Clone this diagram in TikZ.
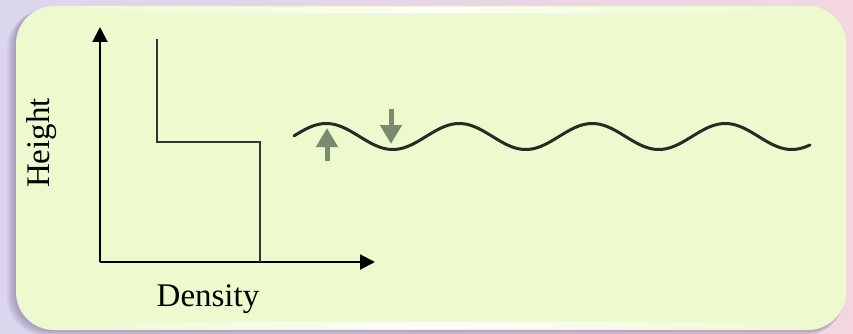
\documentclass[tikz,border=0pt]{standalone}
\usepackage{fontspec}
\setmainfont{Liberation Serif}
\usetikzlibrary{arrows.meta,fadings}
\definecolor{bgleft}{RGB}{219,213,238}
\definecolor{bgright}{RGB}{243,214,226}
\definecolor{boxgreen}{RGB}{236,250,206}
\definecolor{arrowgreen}{RGB}{126,138,112}
\definecolor{wavecol}{RGB}{40,42,36}
\definecolor{shadowcol}{RGB}{110,90,140}
\tikzfading[name=hfade, left color=transparent!100, right color=transparent!100, middle color=transparent!0]
\tikzset{
  axis/.style={line width=2pt, black, -{Triangle[width=15pt,length=15pt]}},
  stepline/.style={line width=1.5pt, black!80},
  wave/.style={line width=3pt, wavecol, line cap=round},
  grayarrow/.style={line width=5pt, arrowgreen, -{Triangle[width=21pt,length=19pt]}},
  lbl/.style={font=\fontsize{33}{36}\selectfont, inner sep=0pt}
}
\begin{document}
\begin{tikzpicture}[x=1pt,y=-1pt]
\useasboundingbox (0,0) rectangle (853,334);
\shade[left color=bgleft, right color=bgright] (0,0) rectangle (853,334);
% shadow
\foreach \i in {1,...,9}{
  \fill[shadowcol, opacity=0.06, rounded corners=38pt] (16-\i,6+0.5*\i) rectangle (846-0.3*\i,330+0.6*\i);
}
% box
\fill[boxgreen, rounded corners=38pt] (16,6) rectangle (846,330);
\fill[white, path fading=hfade, opacity=0.9] (50,7) rectangle (820,13);
\fill[white, path fading=hfade, opacity=0.9] (50,322) rectangle (830,329);
% axes
\coordinate (O) at (100,262);
\coordinate (ytop) at (100,27);
\coordinate (xend) at (375,262);
\draw[axis] (O) -- (ytop);
\draw[axis] (O) -- (xend);
% step profile
\coordinate (s1) at (157,39);
\coordinate (s2) at (260,142);
\coordinate (s3) at (260,262);
\draw[stepline] (s1) |- (s2) -- (s3);
% labels
\node[lbl, rotate=90] (hlabel) at (42,143) {Height};
\node[lbl] (dlabel) at (208,299) {Density};
% wave
\draw[wave, domain=294:810, samples=240, smooth] plot (\x, {136.5 - 13*sin((\x-293)/133*360)});
% gray arrows
\coordinate (ua0) at (327,161);
\coordinate (ua1) at (327,128);
\coordinate (da0) at (391,109);
\coordinate (da1) at (391,144);
\draw[grayarrow] (ua0) -- (ua1);
\draw[grayarrow] (da0) -- (da1);
\end{tikzpicture}
\end{document}
